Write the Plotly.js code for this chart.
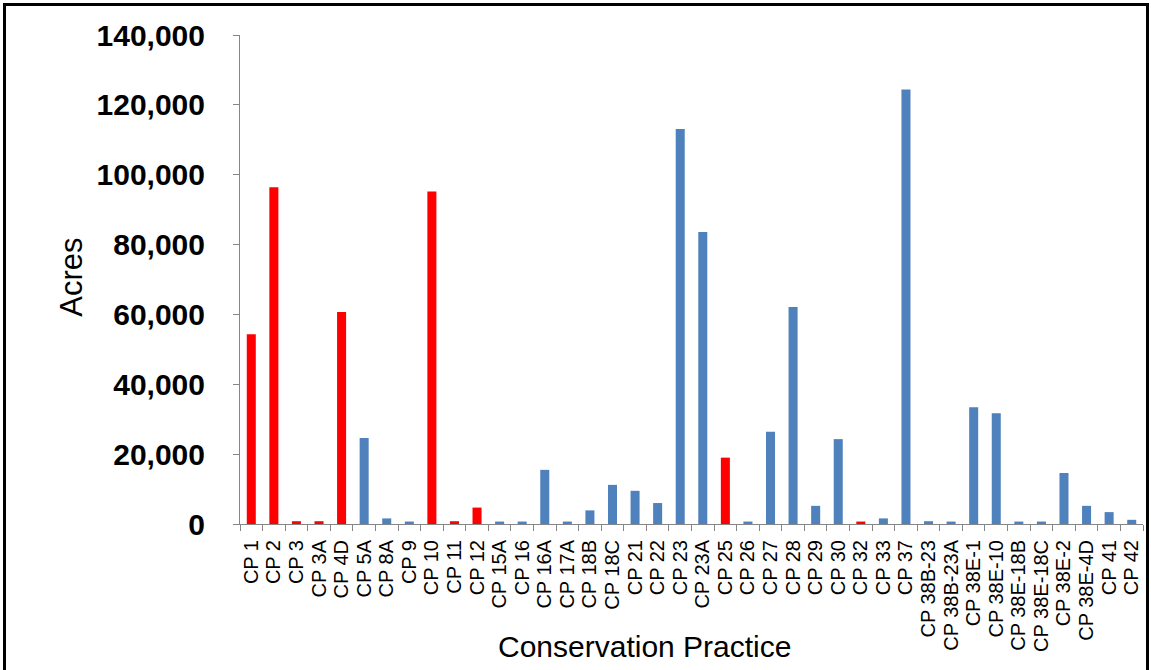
<!DOCTYPE html>
<html>
<head>
<meta charset="utf-8">
<script src="https://cdn.plot.ly/plotly-3.0.1.min.js"></script>
<style>
  html, body { margin: 0; padding: 0; background: #ffffff; }
  #wrap { position: relative; width: 1151px; height: 670px; overflow: hidden; }
  #chart { width: 1151px; height: 670px; }
  #frame { position: absolute; left: 3px; top: 3px; width: 1146px; height: 720px;
           border: 3px solid #000; pointer-events: none; box-sizing: border-box; }
</style>
</head>
<body>
<div id="wrap">
  <div id="chart"></div>
  <div id="frame"></div>
</div>
<script>
const categories = ["CP 1","CP 2","CP 3","CP 3A","CP 4D","CP 5A","CP 8A","CP 9","CP 10","CP 11",
  "CP 12","CP 15A","CP 16","CP 16A","CP 17A","CP 18B","CP 18C","CP 21","CP 22","CP 23",
  "CP 23A","CP 25","CP 26","CP 27","CP 28","CP 29","CP 30","CP 32","CP 33","CP 37",
  "CP 38B-23","CP 38B-23A","CP 38E-1","CP 38E-10","CP 38E-18B","CP 38E-18C","CP 38E-2","CP 38E-4D","CP 41","CP 42"];
const acres = [54300, 96400, 800, 800, 60700, 24600, 1600, 700, 95200, 800,
  4700, 700, 700, 15500, 700, 3900, 11200, 9500, 6000, 113100,
  83600, 19000, 700, 26400, 62100, 5200, 24300, 700, 1600, 124400,
  800, 700, 33400, 31700, 700, 700, 14600, 5200, 3400, 1200];
const highlighted = ["CP 1","CP 2","CP 3","CP 3A","CP 4D","CP 10","CP 11","CP 12","CP 25","CP 32"];
const yTicks = [0, 20000, 40000, 60000, 80000, 100000, 120000, 140000];

const RED = "#FF0000", BLUE = "#4F81BD";
const colors = categories.map(c => highlighted.includes(c) ? RED : BLUE);

const L = 240, R = 1143, T = 35, B = 524.5;
const pw = R - L, ph = B - T;

const trace = {
  type: "bar",
  x: categories,
  y: acres,
  marker: { color: colors, line: { width: 0 } },
  hoverinfo: "x+y"
};

const layout = {
  width: 1151, height: 670,
  margin: { l: L, r: 1151 - R, t: T, b: 670 - B, pad: 0 },
  paper_bgcolor: "#ffffff",
  plot_bgcolor: "#ffffff",
  showlegend: false,
  bargap: 0.6,
  font: { family: "Liberation Sans, Arial, sans-serif", color: "#000" },
  xaxis: {
    type: "category",
    tickmode: "linear", tick0: 0, dtick: 1,
    tickangle: -90,
    tickson: "boundaries",
    ticks: "outside", ticklen: 6, tickcolor: "#868686", tickwidth: 1,
    showline: true, linecolor: "#868686", linewidth: 1,
    showgrid: false, zeroline: false,
    ticklabelstandoff: 7,
    tickfont: { family: "Liberation Sans, Arial, sans-serif", size: 20, color: "#000" },
    automargin: false
  },
  yaxis: {
    range: [0, 140000],
    tickvals: yTicks,
    ticktext: yTicks.map(v => v.toLocaleString("en-US")),
    ticks: "outside", ticklen: 6, tickcolor: "#868686", tickwidth: 1,
    showline: true, linecolor: "#868686", linewidth: 1,
    showgrid: false, zeroline: false,
    ticklabelstandoff: 22,
    tickfont: { family: "Liberation Sans, Arial, sans-serif", size: 30, weight: "bold", color: "#000" },
    automargin: false
  },
  annotations: [
    { text: "Acres", xref: "paper", yref: "paper",
      x: (72 - L) / pw, y: (B - 278) / ph, xanchor: "center", yanchor: "middle",
      textangle: -90, showarrow: false,
      font: { family: "Liberation Sans, Arial, sans-serif", size: 31, color: "#000" } },
    { text: "Conservation Practice", xref: "paper", yref: "paper",
      x: (644.5 - L) / pw, y: (B - 647) / ph, xanchor: "center", yanchor: "middle",
      showarrow: false,
      font: { family: "Liberation Sans, Arial, sans-serif", size: 30, color: "#000" } }
  ]
};

Plotly.newPlot("chart", [trace], layout, { displayModeBar: false, staticPlot: true });
</script>
</body>
</html>
